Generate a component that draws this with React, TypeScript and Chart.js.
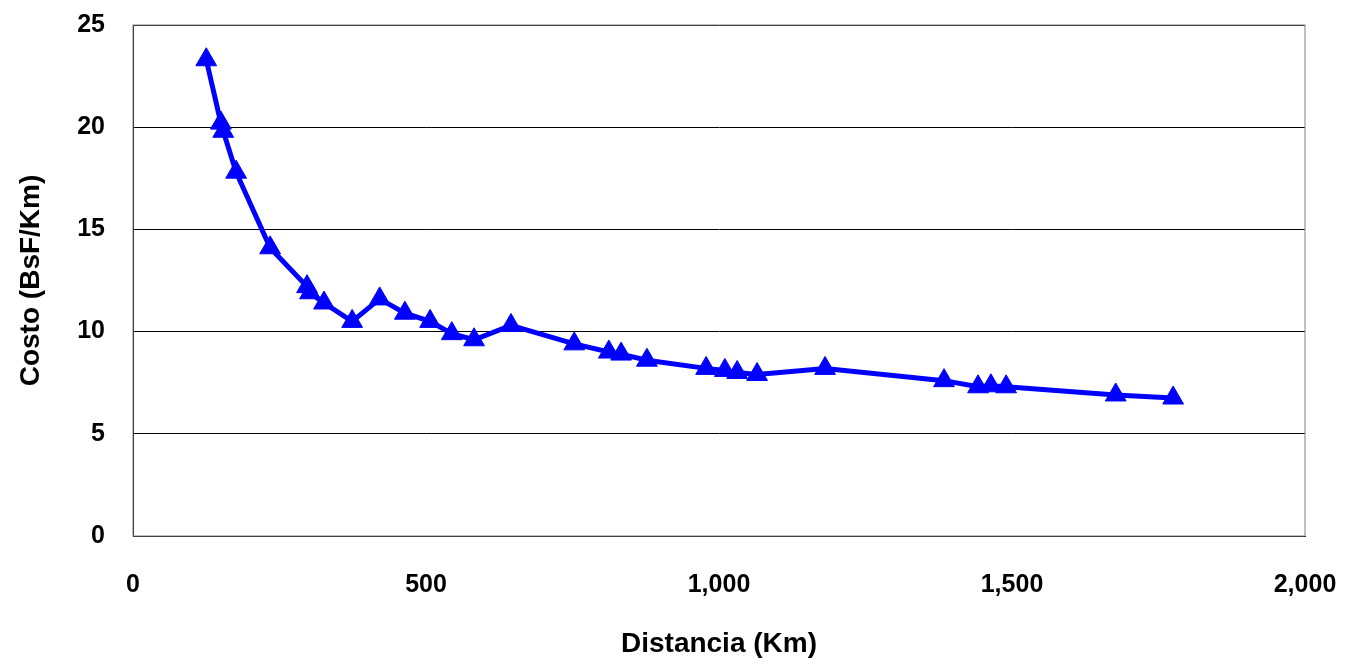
import { useEffect, useRef } from 'react';
import { Chart, registerables } from 'chart.js';

Chart.register(...registerables);

const distancia = [125, 150, 154, 176, 234, 297, 302, 326, 374, 421, 464, 507, 544, 582, 645, 753, 812, 833, 877, 978, 1010, 1031, 1065, 1181, 1384, 1442, 1464, 1490, 1677, 1775];
const costo = [23.3, 20.2, 19.8, 17.8, 14.1, 12.2, 11.9, 11.4, 10.5, 11.6, 10.9, 10.5, 9.9, 9.6, 10.3, 9.4, 9.0, 8.9, 8.6, 8.2, 8.1, 8.0, 7.9, 8.2, 7.6, 7.3, 7.35, 7.3, 6.9, 6.75];

const frame = {
  id: 'frame',
  beforeDatasetsDraw(chart: any) {
    const { ctx, chartArea: a } = chart;
    ctx.save();
    ctx.strokeStyle = '#808080';
    ctx.lineWidth = 1;
    ctx.strokeRect(a.left, a.top, a.right - a.left, a.bottom - a.top);
    ctx.restore();
  },
};

export default function App() {
  const ref = useRef<HTMLCanvasElement>(null);
  useEffect(() => {
    document.body.style.margin = '0';
    if (!ref.current) return;
    const font = { family: '"Liberation Sans", Arial, sans-serif', weight: 'bold' as const };
    const chart = new Chart(ref.current, {
      type: 'scatter',
      data: {
        datasets: [{
          data: distancia.map((x, i) => ({ x, y: costo[i] })),
          showLine: true,
          borderColor: '#0000ff',
          backgroundColor: '#0000ff',
          borderWidth: 5,
          pointStyle: 'triangle',
          pointRadius: 12,
          pointBorderWidth: 1,
        }],
      },
      options: {
        animation: false,
        responsive: false,
        layout: { padding: { top: 25, right: 47, left: 0, bottom: 0 } },
        plugins: { legend: { display: false }, tooltip: { enabled: false } },
        scales: {
          x: {
            min: 0, max: 2000,
            ticks: { stepSize: 500, color: '#000', font: { ...font, size: 25 }, padding: 34, maxRotation: 0, callback: (v: any) => Number(v).toLocaleString('en-US') },
            grid: { display: false, drawTicks: false },
            border: { color: '#000', width: 1 },
            title: { display: true, text: 'Distancia (Km)', color: '#000', font: { ...font, size: 28 }, padding: { top: 18 } },
            afterFit: (s: any) => { s.height = 129; s.paddingLeft = 0; s.paddingRight = 0; },
          },
          y: {
            min: 0, max: 25,
            ticks: { stepSize: 5, color: '#000', font: { ...font, size: 25 }, padding: 28 },
            grid: { color: '#000', lineWidth: 1, drawTicks: false },
            border: { color: '#000', width: 1 },
            title: { display: true, text: 'Costo (BsF/Km)', color: '#000', font: { ...font, size: 28 }, padding: { top: 14, bottom: 14 } },
            afterFit: (s: any) => { s.width = 133; s.paddingTop = 0; s.paddingBottom = 0; },
          },
        },
      },
      plugins: [frame],
    });
    return () => chart.destroy();
  }, []);
  return <canvas ref={ref} width={1352} height={665} style={{ display: 'block' }} />;
}
